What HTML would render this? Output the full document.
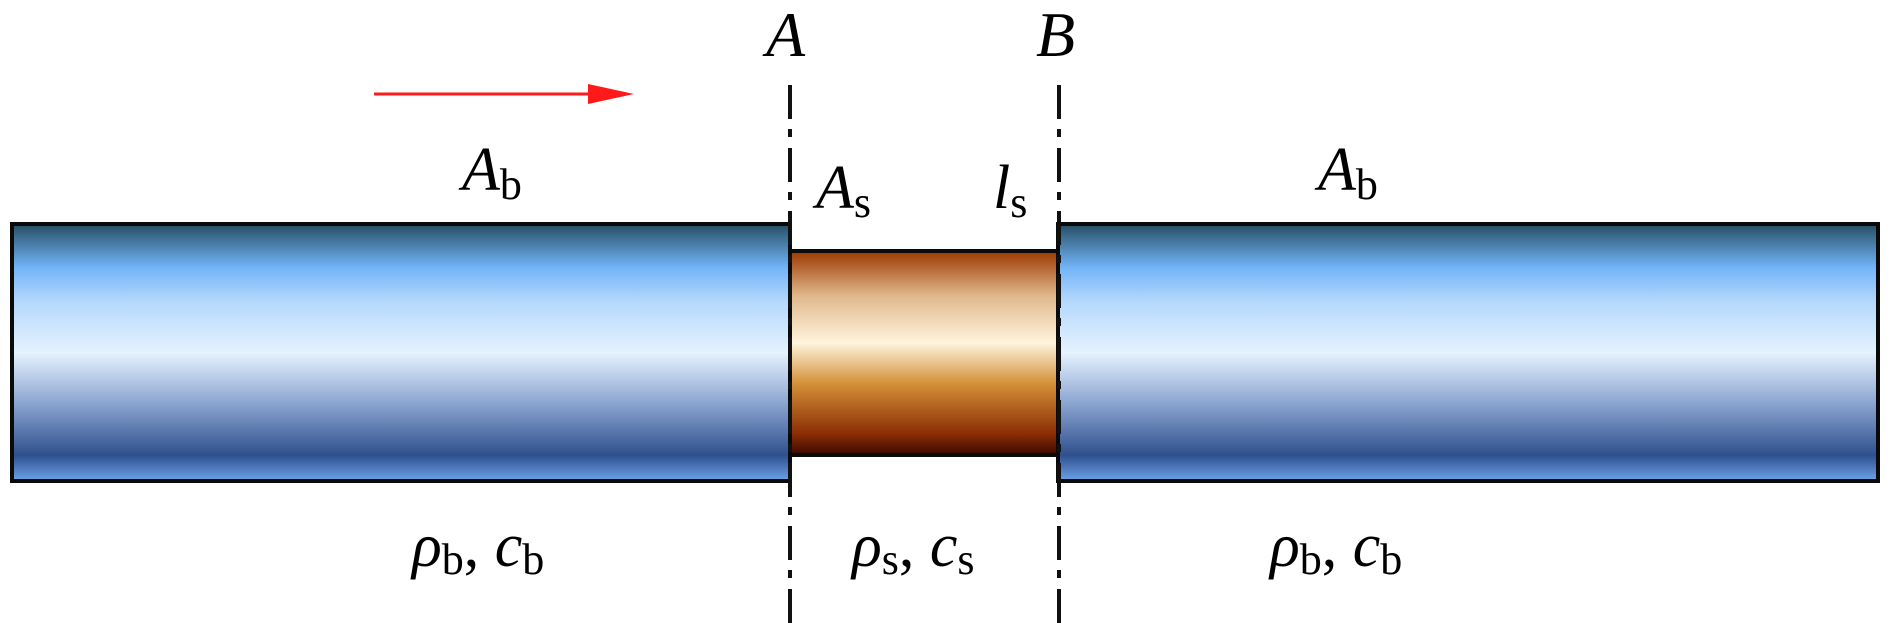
<!DOCTYPE html>
<html><head><meta charset="utf-8"><style>
html,body{margin:0;padding:0;background:#fff;}
svg{display:block;}
</style></head><body>
<svg width="1890" height="623" viewBox="0 0 1890 623" xmlns="http://www.w3.org/2000/svg" font-family="'Liberation Serif', 'DejaVu Serif', serif">
<defs>
<linearGradient id="blue" x1="0" y1="0" x2="0" y2="1">
<stop offset="0" stop-color="#264e64"/>
<stop offset="0.17" stop-color="#72b4f8"/>
<stop offset="0.3" stop-color="#b4d8fc"/>
<stop offset="0.5" stop-color="#e6f2fe"/>
<stop offset="0.7" stop-color="#8aa4d0"/>
<stop offset="0.9" stop-color="#2f508e"/>
<stop offset="1" stop-color="#6ea4ec"/>
</linearGradient>
<linearGradient id="brass" x1="0" y1="0" x2="0" y2="1">
<stop offset="0" stop-color="#9c3800"/>
<stop offset="0.22" stop-color="#e0b88c"/>
<stop offset="0.45" stop-color="#fff4dc"/>
<stop offset="0.65" stop-color="#d49038"/>
<stop offset="0.9" stop-color="#8a2c04"/>
<stop offset="1" stop-color="#3a0800"/>
</linearGradient>
</defs>
<rect x="12" y="224" width="778" height="257" fill="url(#blue)" stroke="#0a0a0a" stroke-width="4"/>
<rect x="790" y="251" width="268" height="204" fill="url(#brass)" stroke="#0a0a0a" stroke-width="4"/>
<rect x="1058" y="224" width="820" height="257" fill="url(#blue)" stroke="#0a0a0a" stroke-width="4"/>
<line x1="790" y1="85" x2="790" y2="623" stroke="#111" stroke-width="4" stroke-dasharray="34 10 8 11"/>
<line x1="1059" y1="85" x2="1059" y2="623" stroke="#111" stroke-width="4" stroke-dasharray="34 10 8 11"/>
<line x1="374" y1="94" x2="600" y2="94" stroke="#ff1a1a" stroke-width="3"/>
<polygon points="588,84 634,94 588,104" fill="#ff1a1a"/>
<g font-family="'Liberation Serif', 'DejaVu Serif', serif" font-style="italic" fill="#000">
<text x="766" y="56" font-size="64">A</text>
<text x="1036" y="56" font-size="64">B</text>
<text x="462" y="190" font-size="62">A<tspan font-style="normal" font-size="44" dy="9">b</tspan></text>
<text x="1318" y="190" font-size="62">A<tspan font-style="normal" font-size="44" dy="9">b</tspan></text>
<text x="816" y="208" font-size="62">A<tspan font-style="normal" font-size="44" dy="9">s</tspan></text>
<text x="993" y="208" font-size="62">l<tspan font-style="normal" font-size="44" dy="9">s</tspan></text>
<text x="412" y="566" font-size="62">ρ<tspan font-style="normal" font-size="44" dy="8">b</tspan><tspan dy="-8" font-style="normal">, </tspan>c<tspan font-style="normal" font-size="44" dy="8">b</tspan></text>
<text x="852" y="566" font-size="62">ρ<tspan font-style="normal" font-size="44" dy="8">s</tspan><tspan dy="-8" font-style="normal">, </tspan>c<tspan font-style="normal" font-size="44" dy="8">s</tspan></text>
<text x="1270" y="566" font-size="62">ρ<tspan font-style="normal" font-size="44" dy="8">b</tspan><tspan dy="-8" font-style="normal">, </tspan>c<tspan font-style="normal" font-size="44" dy="8">b</tspan></text>
</g>
</svg>
</body></html>
